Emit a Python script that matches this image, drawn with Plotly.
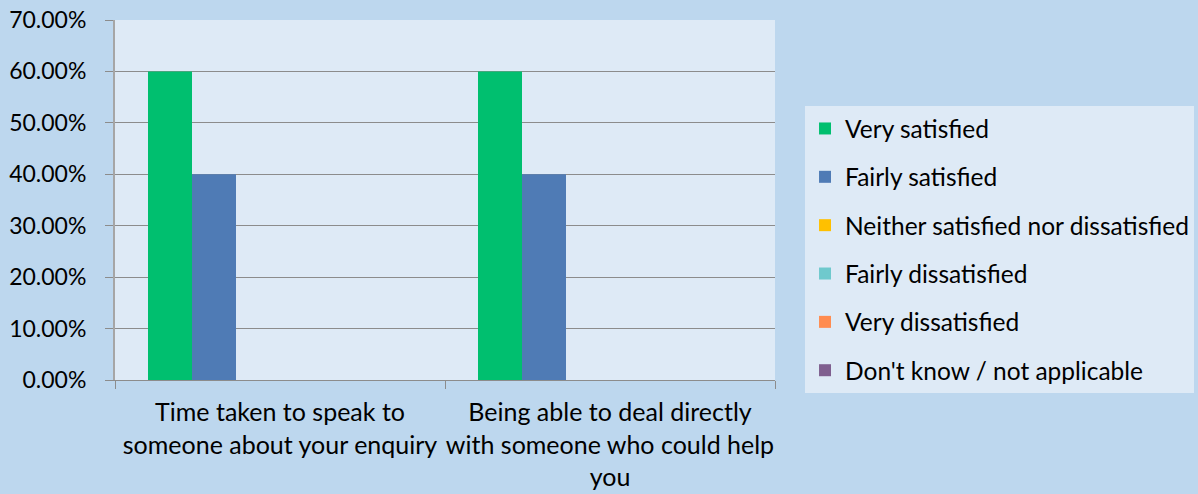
import plotly.graph_objects as go

categories = ["Time taken to speak to<br>someone about your enquiry",
              "Being able to deal directly<br>with someone who could help<br>you"]
series_names = ["Very satisfied", "Fairly satisfied", "Neither satisfied nor dissatisfied",
                "Fairly dissatisfied", "Very dissatisfied", "Don't know / not applicable"]
series_values = [
    [0.60, 0.60],
    [0.40, 0.40],
    [0.0, 0.0],
    [0.0, 0.0],
    [0.0, 0.0],
    [0.0, 0.0],
]
colors = ["#00BF6F", "#4F7BB5", "#FFC000", "#6FC9CD", "#FF8C50", "#7F5F8F"]
y_ticks = [0, 0.1, 0.2, 0.3, 0.4, 0.5, 0.6, 0.7]

FONT = "Lato, Liberation Sans, sans-serif"

fig = go.Figure()
for i, (name, vals) in enumerate(zip(series_names, series_values)):
    fig.add_trace(go.Bar(x=categories, y=vals, name=name, marker_color=colors[i],
                         marker_line_width=0, legendgroup=str(i)))

fig.update_layout(
    width=1198, height=494,
    margin=dict(l=115, r=423, t=20, b=114, autoexpand=False),
    paper_bgcolor="#BDD7EE",
    plot_bgcolor="#DEEAF6",
    barmode="group",
    bargap=0.2, bargroupgap=0,
    font=dict(family=FONT, size=24, color="#000000"),
    legend=dict(x=1.0455, y=0.761, xanchor="left", yanchor="top",
                bgcolor="#DEEAF6", font=dict(size=24.5, family=FONT),
                tracegroupgap=13.5, itemwidth=30, traceorder="grouped",
                borderwidth=0),
    showlegend=True,
)
fig.update_yaxes(range=[0, 0.7], tickvals=y_ticks, tickformat=".2%",
                 showgrid=True, gridcolor="#8C8C8C", gridwidth=1.3,
                 showline=True, linecolor="#A6A6A6", linewidth=2,
                 ticks="outside", ticklen=8, tickcolor="#8C8C8C",
                 ticklabelstandoff=14, automargin=False,
                 tickfont=dict(size=23, family=FONT), zeroline=False)
fig.update_xaxes(showline=True, linecolor="#8C8C8C", linewidth=1.3,
                 ticks="outside", ticklen=8, tickcolor="#8C8C8C",
                 tickson="boundaries", ticklabelstandoff=10, automargin=False,
                 tickangle=0, tickfont=dict(size=25, family=FONT))

fig.write_html("out.html", config={"displayModeBar": False},
               post_script="document.body.style.margin='0';document.body.style.background='#BDD7EE';")
